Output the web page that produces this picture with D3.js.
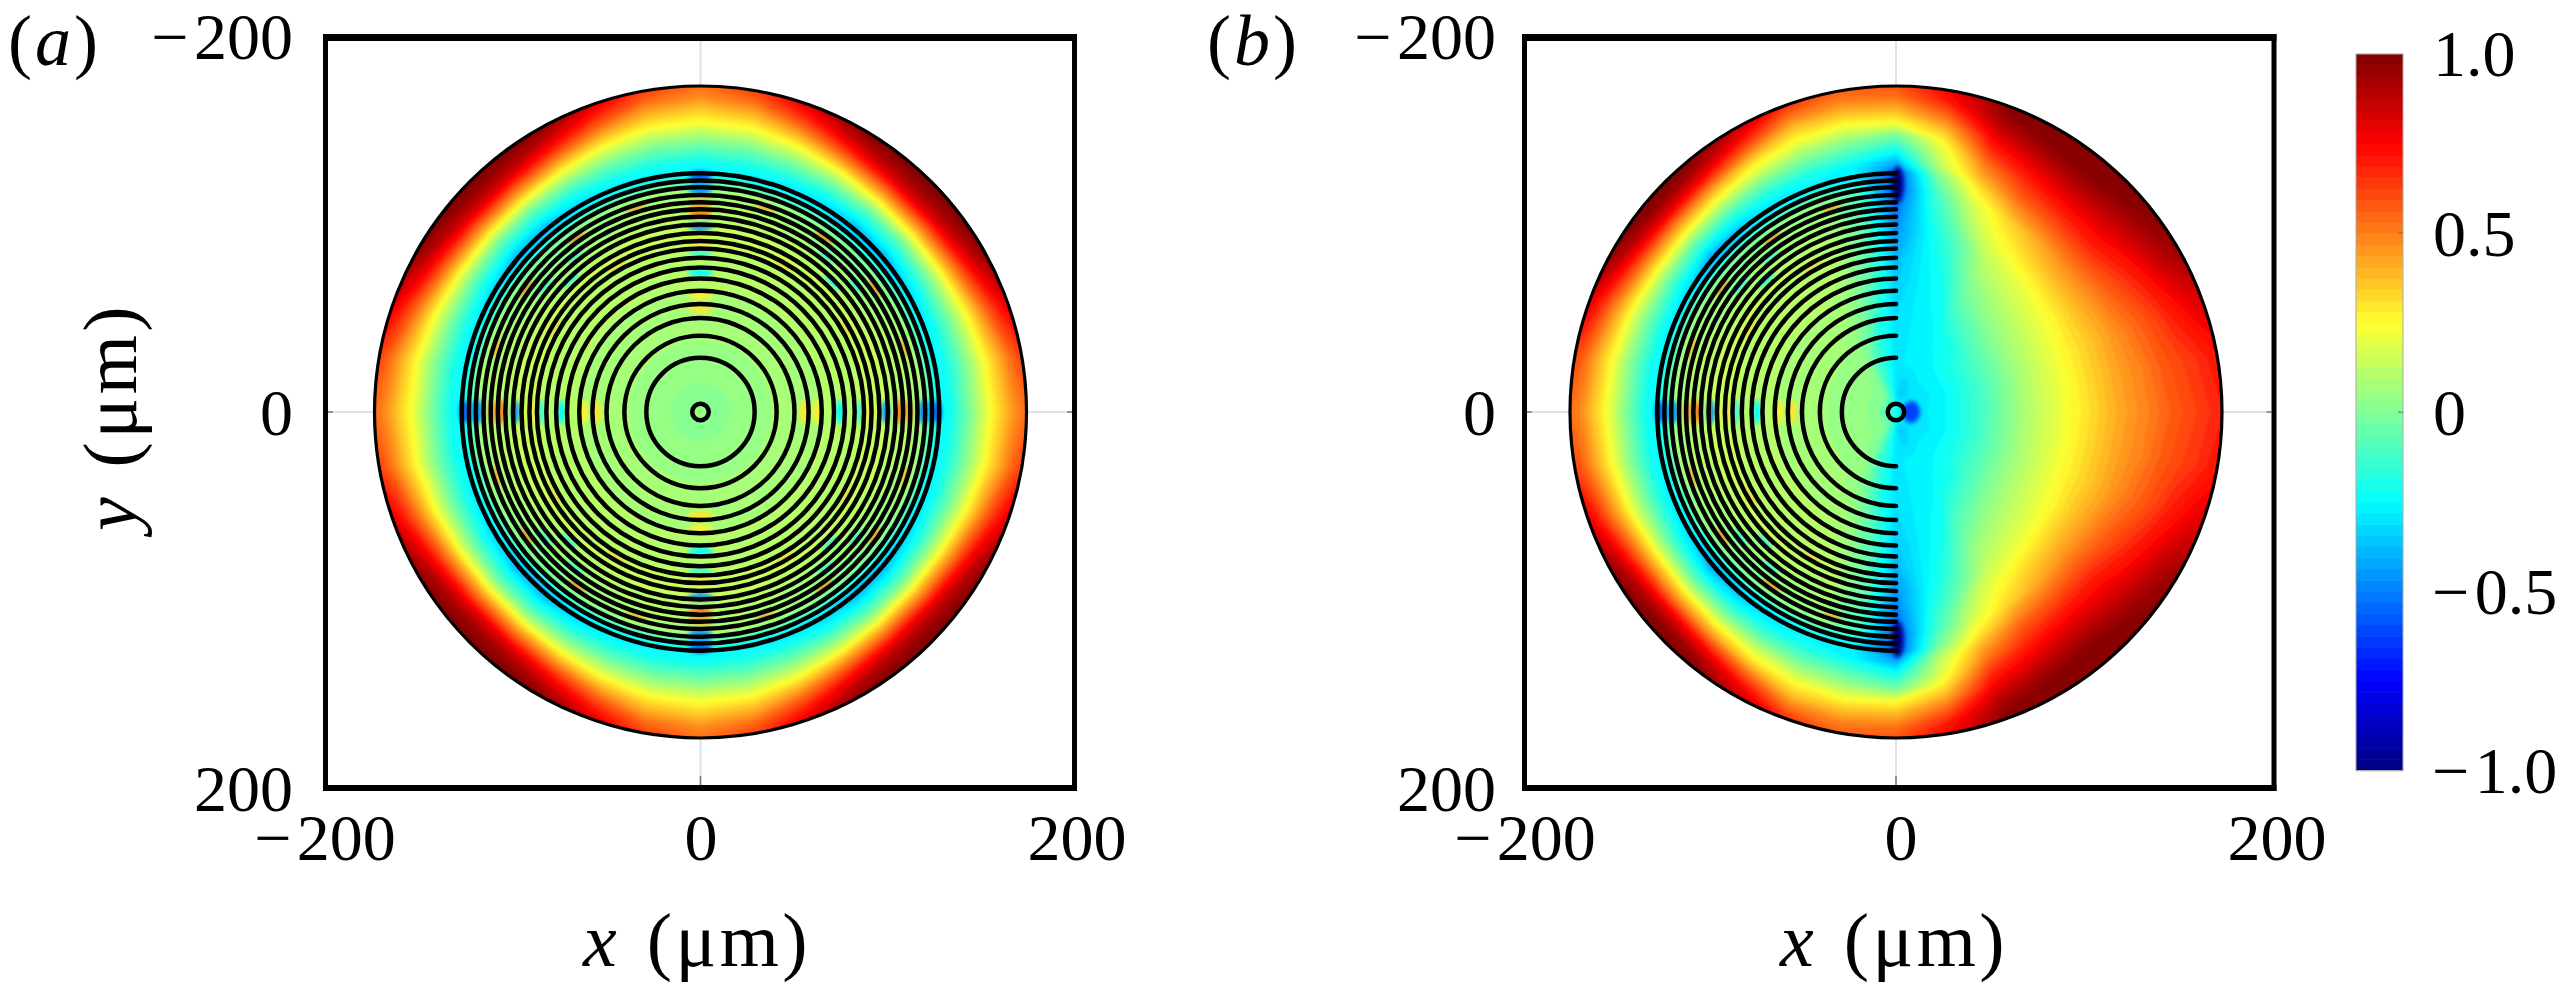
<!DOCTYPE html>
<html>
<head>
<meta charset="utf-8">
<script src="https://cdnjs.cloudflare.com/ajax/libs/d3/7.8.5/d3.min.js"></script>
<style>
html, body { margin: 0; background: #fff; }
svg { display: block; }
text { font-family: "Liberation Serif", serif; fill: #000; }
</style>
</head>
<body>
<svg id="chart" width="2566" height="989"></svg>
<script>
// ---- data ----
var axisTicks = [-200, 0, 200];
var colorbarTicks = [1, 0.5, 0, -0.5, -1];

// jet colormap
var jetValues = [-1, -0.75, -0.25, 0.25, 0.75, 1];
var jetColors = ["#000080", "#0000ff", "#00ffff", "#ffff30", "#ff0000", "#800000"];

// radius of the field samples, um
var fieldRadii = [0, 10, 25, 45, 70, 95, 118, 127, 133, 140, 147, 154, 161, 168, 175];

// panel a, one row per angle (0 = on the axis, 40 = close to the diagonal), mirrored to the full disc
var fieldAnglesA = [0, 10, 20, 30, 40];
var fieldA = [
    [0.04, 0.02, 0.05, 0.07, 0.10, 0.14, 0.08, -0.25, -0.22, -0.08, 0.08, 0.24, 0.36, 0.48, 0.55],
    [0.04, 0.02, 0.05, 0.07, 0.10, 0.14, 0.08, -0.27, -0.21, -0.07, 0.09, 0.26, 0.40, 0.55, 0.65],
    [0.04, 0.02, 0.05, 0.07, 0.10, 0.14, 0.06, -0.29, -0.20, -0.04, 0.15, 0.35, 0.55, 0.72, 0.85],
    [0.04, 0.02, 0.05, 0.07, 0.10, 0.13, 0.03, -0.33, -0.22, -0.02, 0.22, 0.48, 0.72, 0.90, 1.00],
    [0.04, 0.02, 0.05, 0.07, 0.10, 0.13, 0.00, -0.42, -0.24, -0.03, 0.27, 0.55, 0.82, 0.96, 1.00]
];

// panel b, one row per angle counter clockwise from +x, mirrored top to bottom
var fieldAnglesB = [0, 10, 20, 30, 40, 50, 60, 70, 80, 90, 100, 110, 120, 130, 140, 150, 160, 170, 180];
var fieldB = [
    [-0.2, -0.30, -0.26, -0.12, 0.10, 0.26, 0.41, 0.46, 0.49, 0.53, 0.57, 0.60, 0.63, 0.66, 0.69],
    [-0.2, -0.30, -0.26, -0.12, 0.10, 0.26, 0.42, 0.47, 0.50, 0.55, 0.59, 0.62, 0.65, 0.69, 0.72],
    [-0.2, -0.30, -0.27, -0.13, 0.09, 0.26, 0.42, 0.49, 0.53, 0.58, 0.63, 0.69, 0.74, 0.79, 0.83],
    [-0.2, -0.30, -0.27, -0.13, 0.08, 0.25, 0.45, 0.54, 0.59, 0.65, 0.71, 0.78, 0.86, 0.92, 0.96],
    [-0.2, -0.30, -0.27, -0.15, 0.06, 0.23, 0.47, 0.58, 0.65, 0.72, 0.79, 0.86, 0.93, 0.98, 1.00],
    [-0.2, -0.30, -0.27, -0.20, 0.02, 0.20, 0.42, 0.55, 0.63, 0.72, 0.81, 0.90, 0.97, 1.00, 1.00],
    [-0.2, -0.32, -0.27, -0.24, -0.05, 0.13, 0.33, 0.48, 0.58, 0.67, 0.76, 0.86, 0.95, 1.00, 1.00],
    [-0.2, -0.35, -0.28, -0.27, -0.22, -0.08, 0.17, 0.30, 0.41, 0.52, 0.65, 0.76, 0.87, 0.96, 0.98],
    [-0.2, -0.35, -0.28, -0.28, -0.28, -0.26, -0.14, -0.02, 0.12, 0.18, 0.28, 0.42, 0.58, 0.72, 0.78],
    [-0.2, -0.30, -0.30, -0.30, -0.35, -0.45, -0.60, -0.60, -0.40, -0.20, -0.02, 0.25, 0.40, 0.53, 0.60],
    [-0.2, -0.20, -0.20, -0.20, -0.10, -0.05, -0.10, -0.28, -0.26, -0.10, 0.05, 0.22, 0.37, 0.50, 0.58],
    [-0.2, -0.10, -0.12, -0.03, 0.05, 0.10, 0.05, -0.27, -0.22, -0.07, 0.09, 0.25, 0.38, 0.55, 0.70],
    [-0.2, -0.04, 0.02, 0.05, 0.10, 0.12, 0.03, -0.31, -0.22, -0.05, 0.16, 0.34, 0.58, 0.78, 0.90],
    [-0.2, 0.00, 0.04, 0.07, 0.10, 0.13, 0.00, -0.38, -0.24, -0.03, 0.22, 0.46, 0.74, 0.94, 1.00],
    [-0.2, 0.02, 0.05, 0.07, 0.10, 0.13, 0.00, -0.46, -0.26, -0.03, 0.25, 0.50, 0.80, 0.97, 1.00],
    [-0.2, 0.02, 0.05, 0.07, 0.10, 0.13, 0.03, -0.33, -0.22, -0.02, 0.22, 0.46, 0.70, 0.90, 1.00],
    [-0.2, 0.02, 0.05, 0.07, 0.10, 0.14, 0.06, -0.29, -0.20, -0.04, 0.14, 0.33, 0.52, 0.70, 0.84],
    [-0.2, 0.02, 0.05, 0.07, 0.10, 0.14, 0.08, -0.27, -0.21, -0.07, 0.09, 0.26, 0.40, 0.55, 0.65],
    [-0.2, 0.02, 0.05, 0.07, 0.10, 0.14, 0.08, -0.25, -0.22, -0.08, 0.08, 0.24, 0.36, 0.48, 0.55]
];

// coil rings, um
var coilRadii = [28.8, 40.5, 50, 57.5, 64.5, 71, 76.8, 82, 87, 91, 95.2, 99.7, 103.8, 107.8, 111.6, 115.4, 119.5, 123.2, 127];
var centreRing = 4.4;
var discRadius = 173.4;

// coloured spots between the rings on the axes
var axisSpotRadii = [55, 62, 74, 85, 90, 98.6, 106, 111, 118, 122, 126];
var axisSpotValues = [0.3, 0.28, -0.25, -0.12, 0.3, -0.45, 0.5, 0.45, -0.45, -0.4, -0.6];

// streaks between the rings, angle from the axis in the first octants
var streakAngles = [17.5, 35.5, 54.5, 72.5, 44.5, 51, 39, 30, 60];
var streakRadii = [114, 114, 114, 114, 98.6, 107, 107, 90, 90];
var streakValues = [0.45, 0.5, 0.5, 0.42, -0.28, -0.28, -0.28, 0.35, 0.35];

// blue blobs at the ends of the half rings, panel b
var blobX = [8, 1, 1];
var blobY = [0, -121, 121];
var blobRx = [9, 6, 6];
var blobRy = [11, 18, 18];
var blobValues = [-0.62, -1, -1];

// ---- layout ----
var svg = d3.select("#chart");
var jet = d3.scaleLinear().domain(jetValues).range(jetColors);
var step = 2 / 64;
var levels = d3.range(-1, 1, step);

var defs = svg.append("defs");
defs.append("filter").attr("id", "soft").append("feGaussianBlur").attr("stdDeviation", 1.2);
defs.append("filter").attr("id", "softer").append("feGaussianBlur").attr("stdDeviation", 2);
defs.append("filter").attr("id", "ink").append("feGaussianBlur").attr("stdDeviation", 0.6);

var yScale = d3.scaleLinear().domain([-200, 200]).range([36, 788]);

// hair space after the minus, the reference sets it wider than the font does
function spaced(s) { return s.replace("\u2212", "\u2212\u200a"); }

// panel a
drawPanel({
    name: "a",
    x: d3.scaleLinear().domain([-200, 200]).range([324.5, 1076.5]),
    frame: [323, 1077],
    labelShift: 0,
    tickRight: 293,
    grid: gridA(),
    halfRings: false,
    tag: "a",
    tagX: 8,
    xLabelAt: 697
});

// panel b
drawPanel({
    name: "b",
    x: d3.scaleLinear().domain([-200, 200]).range([1520, 2272]),
    frame: [1522, 2276.5],
    labelShift: 4.5,
    tickRight: 1496,
    grid: gridB(),
    halfRings: true,
    tag: "b",
    tagX: 1207,
    xLabelAt: 1894
});

drawColorbar();

// y axis title only once, on the left
svg.append("text")
    .attr("transform", "translate(136,417) rotate(-90)")
    .attr("text-anchor", "middle")
    .attr("font-size", 76)
    .call(unitLabel, "y");

function gridA() {
    // full turn from the octant table, last column repeats the first to close the seam
    var angles = d3.range(0, 361, 10);
    var rows = angles.map(function(a) {
        var f = a % 90;
        if (f > 45) f = 90 - f;
        return fieldA[fieldAnglesA.indexOf(f)];
    });
    return { angles: angles, rows: rows };
}

function gridB() {
    var angles = d3.range(0, 361, 10);
    var rows = angles.map(function(a) {
        var f = a <= 180 ? a : 360 - a;
        return fieldB[fieldAnglesB.indexOf(f)];
    });
    return { angles: angles, rows: rows };
}

function drawPanel(p) {
    var x = p.x;
    var cx = x(0), cy = yScale(0);
    var pxPerUm = (x(200) - x(0)) / 200;
    var g = svg.append("g").attr("class", "panel-" + p.name);

    var clipId = "disc-" + p.name;
    defs.append("clipPath").attr("id", clipId)
        .append("circle").attr("cx", cx).attr("cy", cy).attr("r", discRadius * pxPerUm);

    // faint tick lines from frame to disc
    var faint = g.append("g").attr("stroke", "#e2e2e2").attr("stroke-width", 2);
    faint.append("line").attr("x1", cx).attr("x2", cx).attr("y1", 41).attr("y2", 785);
    faint.append("line").attr("x1", p.frame[0] + 5).attr("x2", p.frame[1] - 5).attr("y1", cy).attr("y2", cy);
    var dark = g.append("g").attr("stroke", "#777").attr("stroke-width", 1.5);
    dark.append("line").attr("x1", cx).attr("x2", cx).attr("y1", 776).attr("y2", 785);
    dark.append("line").attr("x1", p.frame[0] + 5).attr("x2", p.frame[0] + 10).attr("y1", cy).attr("y2", cy);
    dark.append("line").attr("x1", p.frame[1] - 10).attr("x2", p.frame[1] - 5).attr("y1", cy).attr("y2", cy);

    // the field, filled iso bands on the polar table
    var nx = p.grid.angles.length, ny = fieldRadii.length;
    var flat = [];
    for (var j = 0; j < ny; j++) {
        for (var i = 0; i < nx; i++) flat.push(p.grid.rows[i][j]);
    }
    var angleOf = d3.scaleLinear().domain([0, nx - 1]).range([0, 360]).clamp(true);
    var radiusOf = d3.scaleLinear().domain(d3.range(ny)).range(fieldRadii).clamp(true);
    var polar = d3.geoTransform({
        point: function(gx, gy) {
            var a = angleOf(gx - 0.5) * Math.PI / 180;
            var r = radiusOf(gy - 0.5) * pxPerUm;
            this.stream.point(cx + r * Math.cos(a), cy - r * Math.sin(a));
        }
    });
    var path = d3.geoPath(polar);
    var bands = d3.contours().size([nx, ny]).thresholds(levels)(flat);

    var disc = g.append("g").attr("clip-path", "url(#" + clipId + ")");
    var soft = disc.append("g").attr("filter", "url(#soft)");
    soft.selectAll("path")
        .data(bands)
        .enter().append("path")
        .attr("d", path)
        .attr("fill", function(d) { return jet(d.value + step / 2); })
        .attr("fill-rule", "evenodd");

    // spots between the rings
    var spots = [];
    var sectors = p.halfRings ? [90, 180] : [0, 90, 180, 270];
    var axes = p.halfRings ? [180] : [0, 90, 180, 270];
    axes.forEach(function(a) {
        axisSpotRadii.forEach(function(r, i) {
            spots.push({ a: a, r: r, v: axisSpotValues[i], hw: 12, hh: 4 });
        });
    });
    sectors.forEach(function(s) {
        streakAngles.forEach(function(sa, i) {
            spots.push({ a: s + sa, r: streakRadii[i], v: streakValues[i], hw: 11, hh: 2.5 });
        });
    });
    disc.append("g").attr("filter", "url(#softer)")
        .selectAll("ellipse")
        .data(spots)
        .enter().append("ellipse")
        .attr("rx", function(d) { return d.hw; })
        .attr("ry", function(d) { return d.hh; })
        .attr("fill", function(d) { return jet(d.v); })
        .attr("transform", function(d) {
            var t = d.a * Math.PI / 180;
            var px = cx + d.r * pxPerUm * Math.cos(t), py = cy - d.r * pxPerUm * Math.sin(t);
            return "translate(" + px + "," + py + ") rotate(" + (90 - d.a) + ")";
        });

    if (p.halfRings) {
        var blobs = d3.range(blobX.length);
        disc.append("g").attr("filter", "url(#softer)")
            .selectAll("ellipse")
            .data(blobs)
            .enter().append("ellipse")
            .attr("cx", function(i) { return cx + blobX[i] * pxPerUm; })
            .attr("cy", function(i) { return yScale(blobY[i]); })
            .attr("rx", function(i) { return blobRx[i]; })
            .attr("ry", function(i) { return blobRy[i]; })
            .attr("fill", function(i) { return jet(blobValues[i]); });
    }

    // rings
    var rings = g.append("g").attr("fill", "none").attr("stroke", "#000").attr("filter", "url(#ink)");
    rings.selectAll("path")
        .data(coilRadii)
        .enter().append("path")
        .attr("stroke-width", 4.5)
        .attr("stroke-linecap", "round")
        .attr("d", function(r) {
            var c = d3.path();
            if (p.halfRings) {
                c.arc(cx, cy, r * pxPerUm, -Math.PI / 2, Math.PI / 2, true);
            } else {
                c.arc(cx, cy, r * pxPerUm, 0, 2 * Math.PI);
            }
            return c.toString();
        });
    rings.append("circle").attr("cx", cx).attr("cy", cy).attr("r", centreRing * pxPerUm).attr("stroke-width", 4.5);
    rings.append("circle").attr("cx", cx).attr("cy", cy).attr("r", discRadius * pxPerUm).attr("stroke-width", 3.2);

    // frame
    var f = g.append("g").attr("stroke", "#000");
    f.append("line").attr("x1", p.frame[0]).attr("x2", p.frame[1]).attr("y1", 37.5).attr("y2", 37.5).attr("stroke-width", 7);
    f.append("line").attr("x1", p.frame[0]).attr("x2", p.frame[1]).attr("y1", 788).attr("y2", 788).attr("stroke-width", 6);
    f.append("line").attr("x1", p.frame[0] + 2.5).attr("x2", p.frame[0] + 2.5).attr("y1", 34).attr("y2", 791).attr("stroke-width", 5);
    f.append("line").attr("x1", p.frame[1] - 2.5).attr("x2", p.frame[1] - 2.5).attr("y1", 34).attr("y2", 791).attr("stroke-width", 5);

    // axes
    var tickText = function(d) { return spaced(d3.format("d")(d)); };
    var xAxis = d3.axisBottom(x).tickValues(axisTicks).tickFormat(tickText).tickSize(0).tickPadding(0);
    var gx = g.append("g").attr("transform", "translate(" + p.labelShift + ",838)").call(xAxis);
    var yAxis = d3.axisLeft(yScale).tickValues(axisTicks).tickFormat(tickText).tickSize(0).tickPadding(0);
    var gy = g.append("g").attr("transform", "translate(" + p.tickRight + ",0)").call(yAxis);
    [gx, gy].forEach(function(a) {
        a.select(".domain").remove();
        a.attr("font-family", null).attr("font-size", null);
        a.selectAll("text").attr("font-size", 66).attr("y", 0).attr("x", 0).attr("dy", "0.34em");
    });

    // panel tag
    var tag = g.append("text").attr("x", p.tagX).attr("y", 65).attr("font-size", 72)
        .style("letter-spacing", "3px");
    tag.append("tspan").text("(");
    tag.append("tspan").attr("font-style", "italic").text(p.tag);
    tag.append("tspan").text(")");

    g.append("text")
        .attr("x", p.xLabelAt).attr("y", 966)
        .attr("text-anchor", "middle")
        .attr("font-size", 76)
        .call(unitLabel, "x");
}

function unitLabel(sel, letter) {
    sel.style("letter-spacing", "3.5px").style("word-spacing", "4px");
    sel.append("tspan").attr("font-style", "italic").text(letter);
    sel.append("tspan").text(" (\u03bcm)");
}

function drawColorbar() {
    var y = d3.scaleLinear().domain([-1, 1]).range([770.5, 54]);
    var g = svg.append("g").attr("class", "colorbar");
    var steps = d3.range(-1, 1, step);
    g.selectAll("rect")
        .data(steps)
        .enter().append("rect")
        .attr("x", 2356).attr("width", 47)
        .attr("y", function(d) { return y(d + step); })
        .attr("height", function(d) { return y(d) - y(d + step) + 0.6; })
        .attr("fill", function(d) { return jet(d + step / 2); });
    g.append("rect")
        .attr("x", 2356).attr("y", y(1)).attr("width", 47).attr("height", y(-1) - y(1))
        .attr("fill", "none").attr("stroke", "#aaa").attr("stroke-width", 1);
    var labels = g.selectAll("text")
        .data(colorbarTicks)
        .enter().append("text")
        .attr("x", function(d) { return d < 0 ? 2432 : 2433; })
        .attr("y", function(d) { return y(d); })
        .attr("dy", "0.34em")
        .attr("font-size", 66)
        .text(function(d) { return spaced(d3.format(".1f")(d)); });
    labels.filter(function(d) { return d === 0; }).text("0");
    g.selectAll("line.cbt")
        .data(colorbarTicks.slice(1, 4))
        .enter().append("line")
        .attr("class", "cbt")
        .attr("x1", 2398).attr("x2", 2403)
        .attr("y1", function(d) { return y(d); })
        .attr("y2", function(d) { return y(d); })
        .attr("stroke", "#666").attr("stroke-opacity", 0.6).attr("stroke-width", 1.5);
}
</script>
</body>
</html>
